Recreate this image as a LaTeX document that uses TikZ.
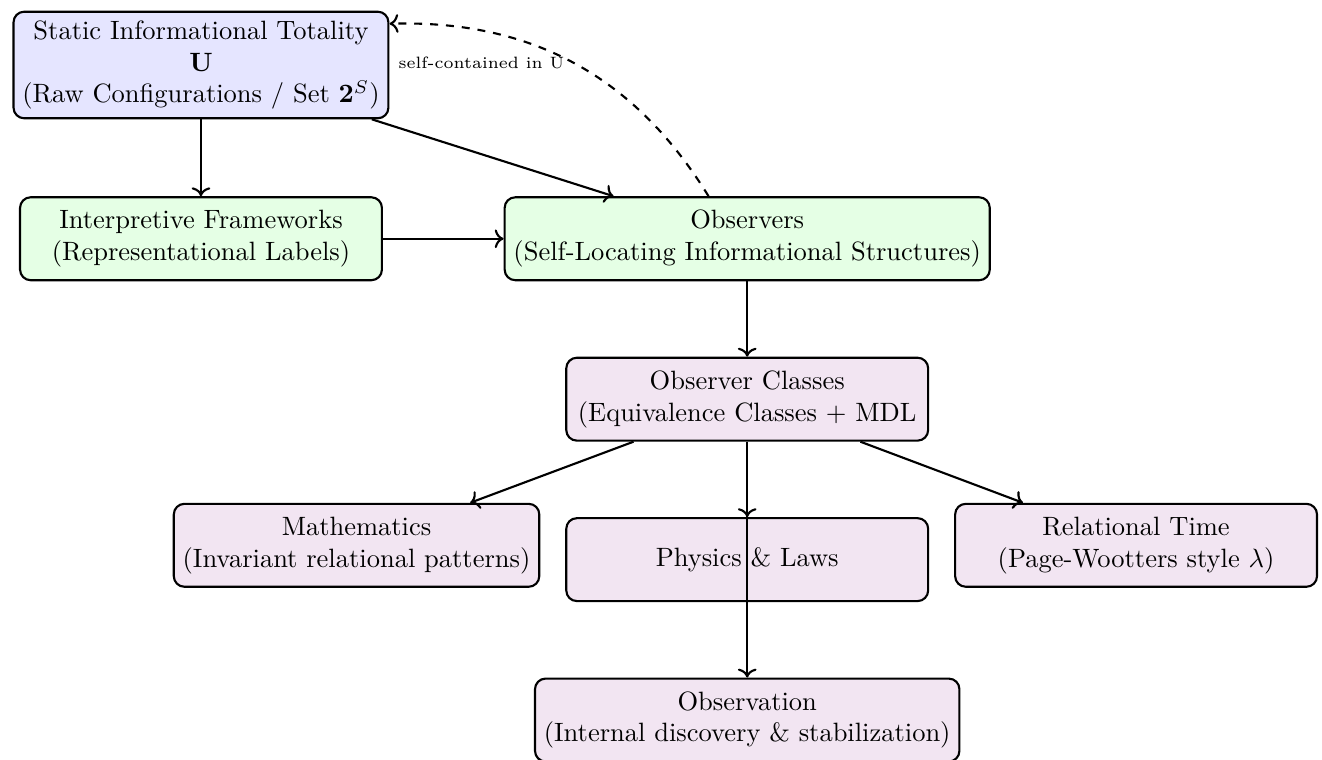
\documentclass[tikz,border=0pt]{standalone}
\usepackage{amsmath, amssymb}
\usepackage{xcolor}
\usepackage{tikz}
\usetikzlibrary{arrows.meta, positioning}

\begin{document}
\begin{tikzpicture}[
    node distance=1cm and 1.6cm,
    box/.style={draw, thick, rounded corners, align=center, minimum width=4.8cm, minimum height=1.1cm},
    arr/.style={->, thick}
]
\useasboundingbox (-2.666,0.862) rectangle (14.870,-9.219);
\node[box, fill=blue!10] (U) {Static Informational Totality\\ $\mathbf{U}$\\ (Raw Configurations / Set $\mathbf{2}^S$)};
\node[box, fill=green!10, below=1.02cm of U] (frames) {Interpretive Frameworks\\ (Representational Labels)};
\node[box, fill=green!10, right=of frames] (obs) {Observers\\ (Self-Locating Informational Structures)};
\node[box, fill=violet!10, below=of obs] (classes) {Observer Classes\\ (Equivalence Classes + MDL};
\node[box, fill=violet!10, below left=0.81cm and 0.33cm of classes] (math) {Mathematics\\ (Invariant relational patterns)};
\node[box, fill=violet!10, below=of classes] (physics) {Physics \& Laws};
\node[box, fill=violet!10, below right=0.81cm and 0.33cm of classes] (time) {Relational Time\\ (Page-Wootters style $\lambda$)};
\node[box, fill=violet!10, below=of physics] (observation) {Observation\\ (Internal discovery \& stabilization)};

\draw[arr] (U) -- (frames);
\draw[arr] (U) -- (obs);
\draw[arr] (frames) -- (obs);
\draw[arr] (obs) -- (classes);
\draw[arr] (classes) -- (math);
\draw[arr] (classes) -- (physics);
\draw[arr] (classes) -- (time);
\draw[arr] (classes) -- (observation);
\draw[arr, dashed] (obs) to[bend right=30] node[midway, left, font=\fontsize{6.2}{7}\selectfont] {self-contained in U} (U);
\end{tikzpicture}
\end{document}
